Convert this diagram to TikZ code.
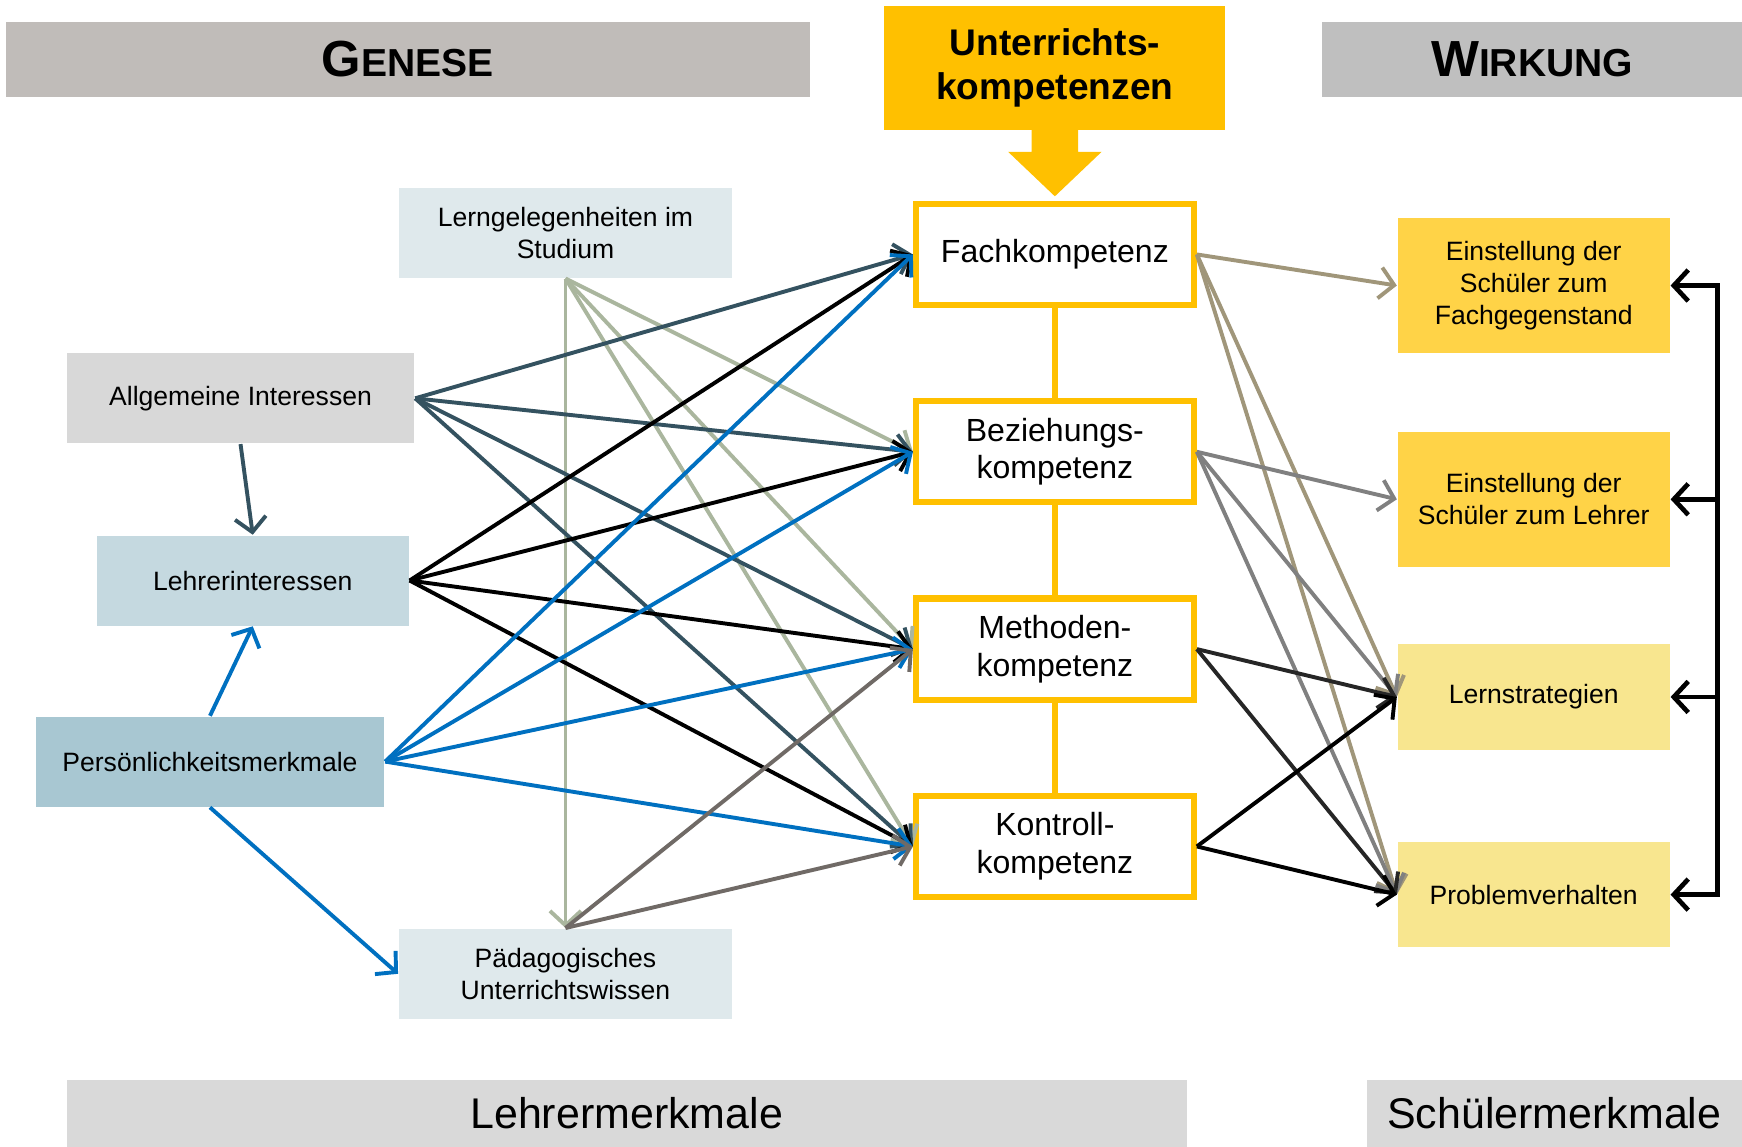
\documentclass[tikz,border=0pt]{standalone}
\usepackage{fontspec}
\setmainfont{Liberation Sans}
\usepackage{tikz}
\usetikzlibrary{arrows.meta, positioning, calc}
\definecolor{colKomp}{RGB}{255,192,0}
\definecolor{colGenese}{RGB}{192,188,185}
\definecolor{colWirkung}{RGB}{191,191,191}
\definecolor{colStudium}{RGB}{223,233,236}
\definecolor{colAllg}{RGB}{216,216,216}
\definecolor{colLehrer}{RGB}{197,217,224}
\definecolor{colPers}{RGB}{168,199,210}
\definecolor{colEinst}{RGB}{255,211,71}
\definecolor{colLern}{RGB}{248,230,143}
\definecolor{colFuss}{RGB}{217,217,217}
\definecolor{colSchiefer}{RGB}{52,82,96}
\definecolor{colBlau}{RGB}{0,112,192}
\definecolor{colSalbei}{RGB}{170,182,158}
\definecolor{colTaupe}{RGB}{112,106,102}
\definecolor{colKhaki}{RGB}{160,150,122}
\definecolor{colGrau}{RGB}{128,128,128}
\definecolor{colDunkel}{RGB}{38,38,38}
\newcommand{\kapitaelchen}[2]{{\fontsize{13}{15}\selectfont #1}{\fontsize{10}{12}\selectfont #2}}

\begin{document}
\begin{tikzpicture}[
  node distance=0.81cm and 0,
  feld/.style={rectangle, minimum width=3cm, minimum height=0.81cm,
               font=\fontsize{6.8}{8.1}\selectfont, align=center},
  komp/.style={rectangle, draw=colKomp, line width=1.6pt, fill=white, minimum width=2.5cm,
               minimum height=0.91cm, font=\fontsize{8.2}{9.7}\selectfont, align=center},
  ziel/.style={rectangle, minimum width=2.45cm, font=\fontsize{6.8}{8.1}\selectfont, align=center},
  kopf/.style={rectangle, minimum height=0.67cm, font=\bfseries},
  fuss/.style={rectangle, fill=colFuss, minimum height=0.6cm, font=\fontsize{11}{13}\selectfont},
  arr/.style={-{Straight Barb[length=1.3mm,width=2.8mm]}, line width=1pt},
]
\useasboundingbox (0,0) rectangle (15.68,-10.32);

\node[kopf, fill=colGenese, minimum width=7.24cm] (genese) at (3.67,-0.535) {\kapitaelchen{G}{ENESE}};
\node[kopf, fill=colWirkung, minimum width=3.78cm] (wirkung) at (13.79,-0.535) {\kapitaelchen{W}{IRKUNG}};
\node[kopf, fill=colKomp, minimum width=3.07cm, minimum height=1.12cm, align=center,
      font=\bfseries\fontsize{9.5}{11.4}\selectfont] (uk) at (9.495,-0.61) {Unterrichts-\\kompetenzen};

\node[komp] (fach) at (9.495,-2.29) {Fachkompetenz};
\node[komp, below=of fach] (bez) {Beziehungs-\\kompetenz};
\node[komp, below=of bez] (meth) {Methoden-\\kompetenz};
\node[komp, below=of meth] (kontr) {Kontroll-\\kompetenz};

\node[feld, fill=colStudium] (lg) at (5.09,-2.095) {Lerngelegenheiten im\\Studium};
\node[feld, fill=colAllg, minimum width=3.13cm] (ai) at (2.165,-3.585) {Allgemeine Interessen};
\node[feld, fill=colLehrer, minimum width=2.81cm] (li) at (2.275,-5.225) {Lehrerinteressen};
\node[feld, fill=colPers, minimum width=3.14cm] (pm) at (1.89,-6.855) {Persönlichkeitsmerkmale};
\node[feld, fill=colStudium] (pu) at (5.09,-8.765) {Pädagogisches\\Unterrichtswissen};

\node[ziel, fill=colEinst, minimum height=1.22cm] (ef) at (13.805,-2.57) {Einstellung der\\Schüler zum\\Fachgegenstand};
\node[ziel, fill=colEinst, minimum height=1.22cm, below=0.69cm of ef] (el) {Einstellung der\\Schüler zum Lehrer};
\node[ziel, fill=colLern, minimum height=0.95cm, below=0.68cm of el] (lern) {Lernstrategien};
\node[ziel, fill=colLern, minimum height=0.94cm, below=0.82cm of lern] (prob) {Problemverhalten};

\node[fuss, minimum width=10.08cm] (lm) at (5.64,-10.02) {Lehrermerkmale};
\node[fuss, minimum width=3.38cm] (sm) at (13.99,-10.02) {Schülermerkmale};

% Blockpfeil und Verbindung der Kompetenzen
\fill[colKomp] ($(uk.south)+(-0.21,0.01)$) -- ++(0,-0.20) -- ++(-0.21,0) -- ($(fach.north)+(0,0.04)$)
  -- ($(uk.south)+(0.42,-0.19)$) -- ++(-0.21,0) -- ++(0,0.20) -- cycle;
\draw[colKomp, line width=1.6pt] (fach.south) -- (bez.north);
\draw[colKomp, line width=1.6pt] (bez.south) -- (meth.north);
\draw[colKomp, line width=1.6pt] (meth.south) -- (kontr.north);

\draw[arr, colSalbei] (lg.south) -- (pu.north);
\draw[arr, colSalbei] (lg.south) -- (bez.west);
\draw[arr, colSalbei] (lg.south) -- (meth.west);
\draw[arr, colSalbei] (lg.south) -- (kontr.west);

\draw[arr, colSchiefer] (ai.south) -- (li.north);
\draw[arr, colSchiefer] (ai.east) -- (fach.west);
\draw[arr, colSchiefer] (ai.east) -- (bez.west);
\draw[arr, colSchiefer] (ai.east) -- (meth.west);
\draw[arr, colSchiefer] (ai.east) -- (kontr.west);

\draw[arr, black] (li.east) -- (fach.west);
\draw[arr, black] (li.east) -- (bez.west);
\draw[arr, black] (li.east) -- (meth.west);
\draw[arr, black] (li.east) -- (kontr.west);

\draw[arr, colBlau] (pm.north) -- (li.south);
\draw[arr, colBlau] (pm.south) -- (pu.west);
\draw[arr, colBlau] (pm.east) -- (fach.west);
\draw[arr, colBlau] (pm.east) -- (bez.west);
\draw[arr, colBlau] (pm.east) -- (meth.west);
\draw[arr, colBlau] (pm.east) -- (kontr.west);

\draw[arr, colTaupe] (pu.north) -- (meth.west);
\draw[arr, colTaupe] (pu.north) -- (kontr.west);

\draw[arr, colKhaki] (fach.east) -- (ef.west);
\draw[arr, colKhaki] (fach.east) -- (lern.west);
\draw[arr, colKhaki] (fach.east) -- (prob.west);
\draw[arr, colGrau] (bez.east) -- (el.west);
\draw[arr, colGrau] (bez.east) -- (lern.west);
\draw[arr, colGrau] (bez.east) -- (prob.west);
\draw[arr, colDunkel] (meth.east) -- (lern.west);
\draw[arr, colDunkel] (meth.east) -- (prob.west);
\draw[arr, black] (kontr.east) -- (lern.west);
\draw[arr, black] (kontr.east) -- (prob.west);

% Rueckkopplung
\coordinate (rueck) at ($(lern.east)+(0.42,0)$);
\draw[arr, line width=1.2pt] (rueck) |- (ef.east);
\draw[arr, line width=1.2pt] (rueck) |- (prob.east);
\draw[arr, line width=1.2pt] (el.east -| rueck) -- (el.east);
\draw[arr, line width=1.2pt] (rueck) -- (lern.east);

\end{tikzpicture}
\end{document}
